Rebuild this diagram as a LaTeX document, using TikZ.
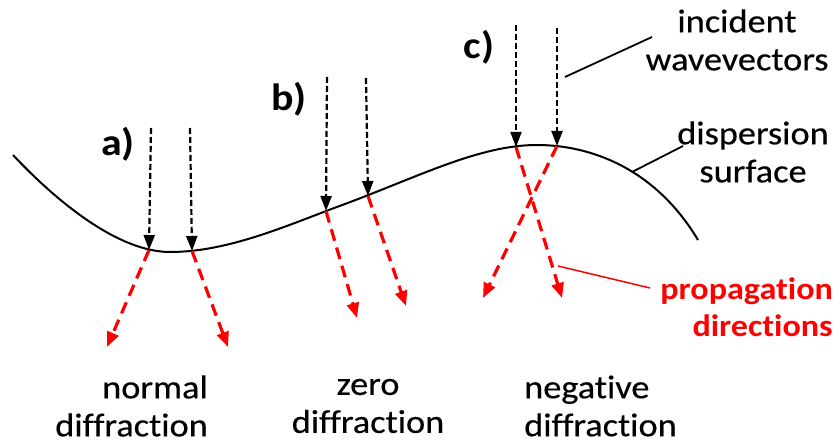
\documentclass[tikz,border=0pt]{standalone}
\usepackage{fontspec}
\setmainfont{Carlito}[Ligatures=NoCommon,FakeStretch=1.1,UprightFeatures={FakeBold=0.4}]
\usetikzlibrary{arrows.meta}
\definecolor{PropRed}{HTML}{FF0000}

\begin{document}
\begin{tikzpicture}[
  x=1pt, y=-1pt,
  surf/.style={line width=2pt},
  wavein/.style={line width=2.2pt,dash pattern=on 6pt off 3pt,-{Triangle[length=15pt,width=11pt]}},
  waveout/.style={PropRed,line width=3.2pt,dash pattern=on 12pt off 7pt,-{Triangle[length=15pt,width=12pt]}},
  leader/.style={line width=1.8pt},
  txt/.style={font=\fontsize{33}{38}\selectfont,align=center,inner sep=0pt},
  case/.style={font=\fontsize{38}{44}\selectfont\bfseries,inner sep=0pt}
]
  \useasboundingbox (0,0) rectangle (837,443);

  % dispersion surface
  \draw[surf] (13,155) .. controls (60,205) and (120,252) .. (170,252)
    .. controls (230,252) and (290,224) .. (345,204)
    .. controls (420,176) and (480,145) .. (537,145)
    .. controls (590,145) and (655,168) .. (698,240);

  % points on the surface
  \coordinate (a1) at (149,250);
  \coordinate (a2) at (192,251);
  \coordinate (b1) at (326,211);
  \coordinate (b2) at (368,196);
  \coordinate (c1) at (516,147);
  \coordinate (c2) at (557,146);

  % incident wavevectors
  \coordinate (a1in) at (151,128);
  \coordinate (a2in) at (190,128);
  \coordinate (b1in) at (327,77);
  \coordinate (b2in) at (366,78);
  \coordinate (c1in) at (516,25);
  \coordinate (c2in) at (557,28);
  \draw[wavein] (a1in) -- (a1);
  \draw[wavein] (a2in) -- (a2);
  \draw[wavein] (b1in) -- (b1);
  \draw[wavein] (b2in) -- (b2);
  \draw[wavein] (c1in) -- (c1);
  \draw[wavein] (c2in) -- (c2);

  % propagation directions
  \coordinate (a1out) at (107,347);
  \coordinate (a2out) at (228,347);
  \coordinate (b1out) at (357,318);
  \coordinate (b2out) at (406,306);
  \coordinate (c1out) at (562,298);
  \coordinate (c2out) at (483,298);
  \draw[waveout] (a1) -- (a1out);
  \draw[waveout] (a2) -- (a2out);
  \draw[waveout] (b1) -- (b1out);
  \draw[waveout] (b2) -- (b2out);
  \draw[waveout] (c1) -- (c1out);
  \draw[waveout] (c2) -- (c2out);

  \node[case] (lbla) at (118,144) {a)};
  \node[case] (lblb) at (289,99) {b)};
  \node[case] (lblc) at (479,47) {c)};

  \node[txt] (incident) at (737,40) {incident\\wavevectors};
  \node[txt] (dispersion) at (753,152) {dispersion\\surface};
  \node[txt,PropRed,font=\fontsize{31}{37}\selectfont\bfseries,align=right,anchor=east] (propagation) at (833,307) {propagation\\directions};

  % leader lines
  \coordinate (incpt) at (565,77);
  \coordinate (incend) at (652,37);
  \coordinate (disppt) at (632,172);
  \coordinate (dispend) at (683,146);
  \coordinate (proppt) at (558,266);
  \coordinate (propend) at (650,288);
  \draw[leader] (incpt) -- (incend);
  \draw[leader] (disppt) -- (dispend);
  \draw[leader,PropRed,line width=1.5pt] (proppt) -- (propend);

  \node[txt,align=right,anchor=east] (normal) at (208,406) {normal\\diffraction};
  \node[txt] (zero) at (368,406) {zero\\diffraction};
  \node[txt,align=left,anchor=west] (negative) at (524,406) {negative\\diffraction};
\end{tikzpicture}
\end{document}
